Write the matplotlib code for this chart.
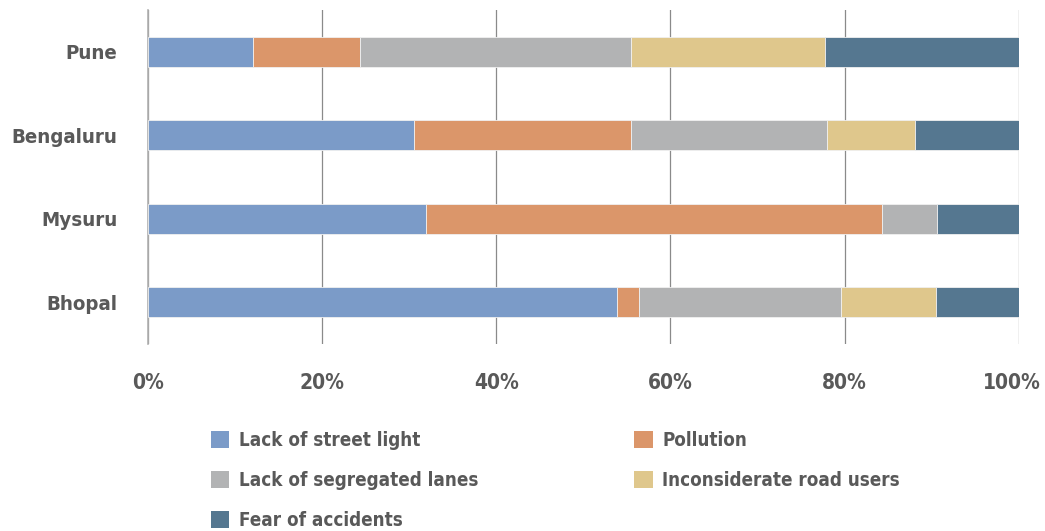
import matplotlib
matplotlib.use("Agg")
import matplotlib.pyplot as plt
from matplotlib import font_manager as fm
from matplotlib.patches import Patch
import matplotlib.transforms as mtransforms
import numpy as np

cities = ["Pune", "Bengaluru", "Mysuru", "Bhopal"]
series_names = ["Lack of street light", "Pollution", "Lack of segregated lanes",
                "Inconsiderate road users", "Fear of accidents"]
street_light = [12.1, 30.6, 31.9, 53.9]
pollution = [12.2, 24.9, 52.4, 2.5]
segregated = [31.2, 22.5, 6.3, 23.2]
inconsiderate = [22.3, 10.1, 0.0, 10.9]
accidents = [22.2, 11.9, 9.4, 9.5]
xticks = [0, 20, 40, 60, 80, 100]
xticklabels = ["0%", "20%", "40%", "60%", "80%", "100%"]

colors = ["#7B9BC8", "#DB966A", "#B2B3B4", "#DFC78C", "#557790"]
text_color = "#595959"

names = {f.name for f in fm.fontManager.ttflist}
cond = [f for f in fm.fontManager.ttflist if f.name == "DejaVu Sans" and f.stretch == "condensed"]
if "Liberation Sans Narrow" in names:
    fprops = dict(family="Liberation Sans Narrow", weight="bold")
elif cond:
    fprops = dict(family="DejaVu Sans", stretch="condensed", weight="bold")
else:
    fprops = dict(family="DejaVu Sans", weight="bold")

fig = plt.figure(figsize=(10.45, 5.31), dpi=100)
ax = fig.add_axes([148/1045, (531-343.75)/531, 870.7/1045, 333.5/531])

data = [street_light, pollution, segregated, inconsiderate, accidents]
ypos = np.arange(len(cities))[::-1]
left = np.zeros(len(cities))
for vals, c, nm in zip(data, colors, series_names):
    v = np.array(vals)
    ax.barh(ypos, v, left=left, height=0.36, color=c, edgecolor="#f0f0f0",
            linewidth=0.6, label=nm, zorder=3)
    left += v

ax.set_xlim(0, 100)
ax.set_ylim(-0.5, 3.5)
ax.set_xticks(xticks)
ax.set_xticklabels(xticklabels)
ax.set_yticks(ypos)
ax.set_yticklabels(cities)
for s in ["top", "right", "bottom"]:
    ax.spines[s].set_visible(False)
ax.spines["left"].set_color("#b0b0b0")
ax.spines["left"].set_linewidth(1.2)
ax.grid(axis="x", color="#8a8a8a", linewidth=0.9, zorder=0)
ax.tick_params(axis="y", length=0, pad=22)
ax.tick_params(axis="x", length=0, pad=21)
for lab in ax.get_xticklabels():
    lab.set_fontproperties(fm.FontProperties(size=15, **fprops))
    lab.set_color(text_color)
for lab in ax.get_yticklabels():
    lab.set_fontproperties(fm.FontProperties(size=14.7, **fprops))
    lab.set_color(text_color)

# shift the last tick label inward so it stays within the figure (as in the reference)
last = ax.get_xticklabels()[-1]
last.set_transform(last.get_transform() + mtransforms.ScaledTranslation(-7/100, 0, fig.dpi_scale_trans))

order = [0, 2, 4, 1, 3]
handles = [Patch(facecolor=colors[i], edgecolor="none") for i in order]
labels = [series_names[i] for i in order]
leg = fig.legend(handles, labels, ncol=2, loc="upper left",
                 bbox_to_anchor=(203/1045, 1 - 423.5/531), frameon=False,
                 prop=fm.FontProperties(size=13.5, **fprops),
                 handlelength=1.0, handleheight=1.0, handletextpad=0.5,
                 columnspacing=8.32, labelspacing=1.12, borderaxespad=0)
for t in leg.get_texts():
    t.set_color(text_color)

fig.savefig("out.png", dpi=100)
